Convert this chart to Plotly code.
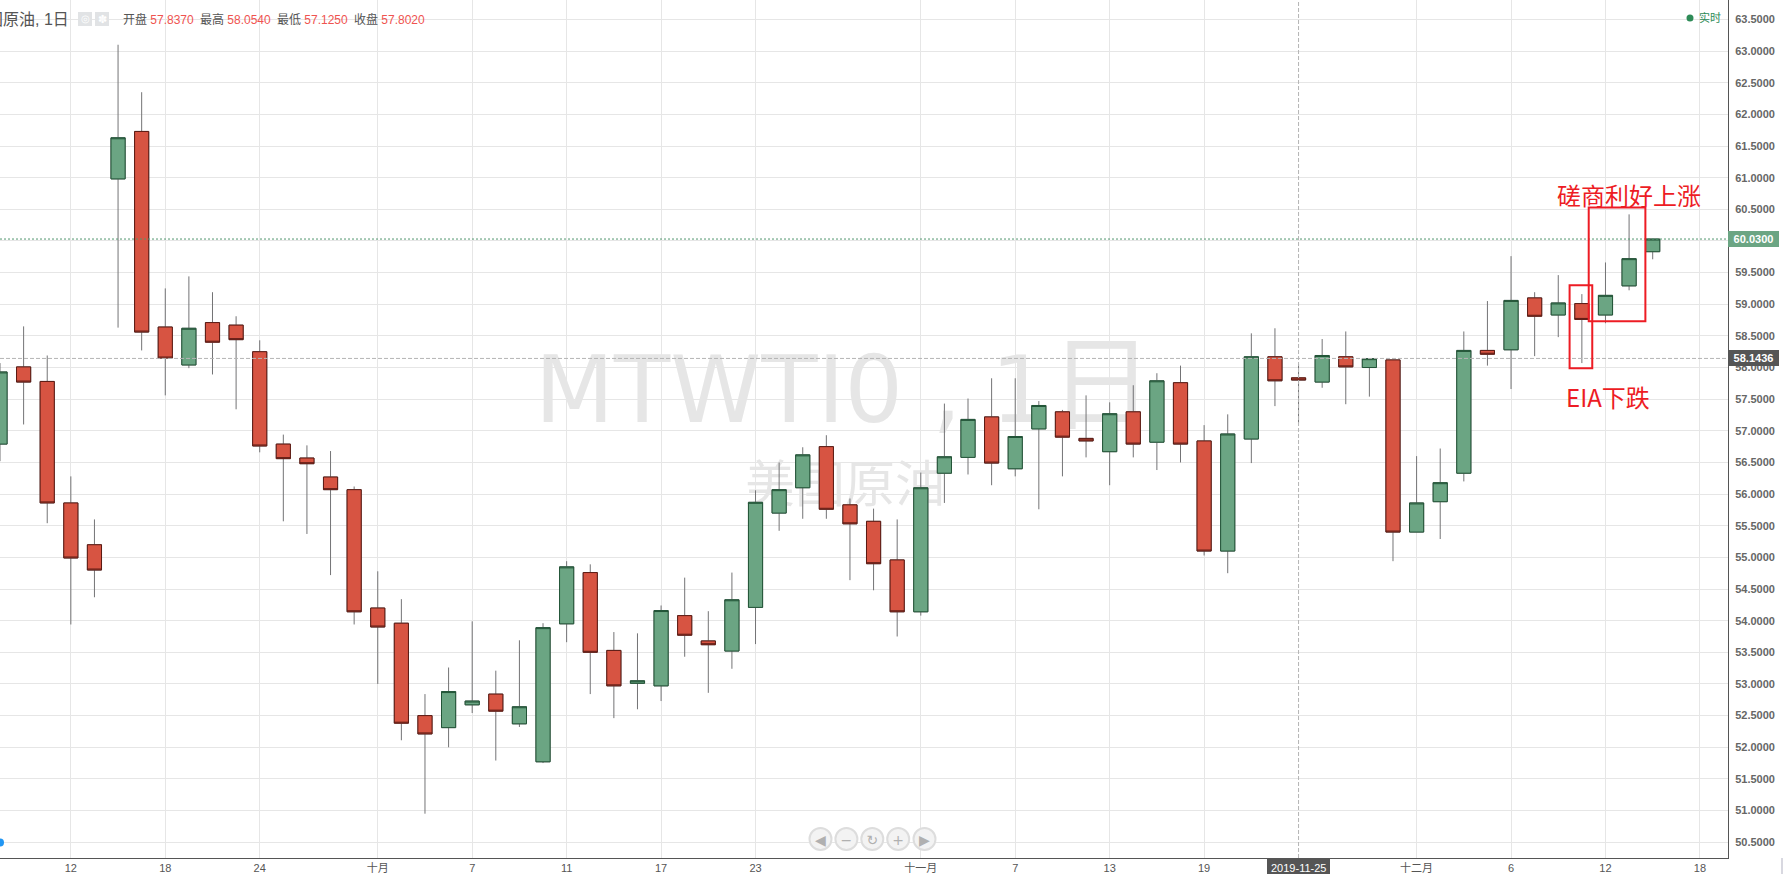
import plotly.graph_objects as go

# daily bars
bar_dates = ["2019-09-09", "2019-09-10", "2019-09-11", "2019-09-12", "2019-09-13",
             "2019-09-16", "2019-09-17", "2019-09-18", "2019-09-19", "2019-09-20",
             "2019-09-23", "2019-09-24", "2019-09-25", "2019-09-26", "2019-09-27",
             "2019-09-30", "2019-10-01", "2019-10-02", "2019-10-03", "2019-10-04",
             "2019-10-07", "2019-10-08", "2019-10-09", "2019-10-10", "2019-10-11",
             "2019-10-14", "2019-10-15", "2019-10-16", "2019-10-17", "2019-10-18",
             "2019-10-21", "2019-10-22", "2019-10-23", "2019-10-24", "2019-10-25",
             "2019-10-28", "2019-10-29", "2019-10-30", "2019-10-31", "2019-11-01",
             "2019-11-04", "2019-11-05", "2019-11-06", "2019-11-07", "2019-11-08",
             "2019-11-11", "2019-11-12", "2019-11-13", "2019-11-14", "2019-11-15",
             "2019-11-18", "2019-11-19", "2019-11-20", "2019-11-21", "2019-11-22",
             "2019-11-25", "2019-11-26", "2019-11-27", "2019-11-28", "2019-11-29",
             "2019-12-02", "2019-12-03", "2019-12-04", "2019-12-05", "2019-12-06",
             "2019-12-09", "2019-12-10", "2019-12-11", "2019-12-12", "2019-12-13",
             "2019-12-16"]
future_dates = ["2019-12-17", "2019-12-18", "2019-12-19", "2019-12-20"]

opens = [56.79, 58.01, 57.78, 55.86, 55.20,
         60.98, 61.73, 58.64, 58.04, 58.71,
         58.67, 58.25, 56.79, 56.57, 56.27,
         56.07, 54.20, 53.96, 52.50, 52.31,
         52.67, 52.84, 52.37, 51.77, 53.95,
         54.76, 53.53, 53.01, 52.97, 54.08,
         53.68, 53.52, 54.21, 55.70, 56.10,
         56.75, 55.83, 55.57, 54.96, 54.14,
         56.33, 56.58, 57.22, 56.40, 57.03,
         57.30, 56.88, 56.67, 57.30, 56.82,
         57.76, 56.84, 55.10, 56.87, 58.17,
         57.837, 57.77, 58.17, 58.00, 58.12,
         55.40, 55.88, 56.33, 58.27, 58.28,
         59.10, 58.83, 59.01, 58.83, 59.29,
         59.83]
highs = [58.07, 58.65, 58.19, 56.28, 55.60,
         63.10, 62.35, 59.25, 59.44, 59.19,
         58.81, 58.43, 56.94, 56.77, 56.68,
         56.12, 54.78, 54.34, 52.84, 53.26,
         53.99, 53.21, 53.69, 53.96, 54.94,
         54.89, 53.82, 53.80, 54.24, 54.68,
         54.15, 54.76, 56.06, 56.50, 56.74,
         56.93, 55.93, 55.77, 55.60, 56.34,
         57.43, 57.51, 57.83, 57.83, 57.47,
         57.33, 57.56, 57.45, 57.72, 57.91,
         58.03, 57.09, 57.26, 58.54, 58.62,
         58.054, 58.45, 58.57, 58.14, 58.12,
         56.60, 56.72, 58.57, 59.05, 59.76,
         59.19, 59.46, 59.16, 59.66, 60.42,
         60.03]
lows = [56.52, 57.10, 55.54, 53.94, 54.37,
        58.63, 58.27, 57.56, 57.99, 57.89,
        57.34, 56.66, 55.57, 55.37, 54.72,
        53.94, 53.00, 52.11, 50.95, 52.00,
        52.54, 51.79, 52.32, 51.75, 53.66,
        52.84, 52.46, 52.60, 52.73, 53.43,
        52.86, 53.24, 53.63, 55.42, 55.61,
        55.61, 54.64, 54.48, 53.75, 54.08,
        55.86, 56.31, 56.14, 56.28, 55.76,
        56.28, 56.58, 56.14, 56.58, 56.38,
        56.50, 55.03, 54.75, 56.49, 57.39,
        57.125, 57.68, 57.42, 57.54, 54.94,
        55.40, 55.29, 56.20, 58.03, 57.66,
        58.18, 58.48, 58.07, 58.70, 59.22,
        59.71]
closes = [57.93, 57.77, 55.86, 54.99, 54.80,
          61.63, 58.56, 58.15, 58.62, 58.40,
          58.44, 56.76, 56.56, 56.48, 56.07,
          54.14, 53.90, 52.38, 52.21, 52.88,
          52.73, 52.57, 52.64, 53.89, 54.85,
          53.50, 52.97, 53.05, 54.16, 53.77,
          53.62, 54.33, 55.87, 56.07, 56.62,
          55.76, 55.53, 54.90, 54.14, 56.10,
          56.59, 57.18, 56.49, 56.91, 57.40,
          56.90, 56.84, 57.27, 56.79, 57.79,
          56.79, 55.10, 56.95, 58.17, 57.79,
          57.802, 58.19, 58.01, 58.14, 55.40,
          55.86, 56.18, 58.27, 58.21, 59.06,
          58.81, 59.02, 58.76, 59.14, 59.72,
          60.03]

tick_dates = ["2019-09-12", "2019-09-18", "2019-09-24", "2019-10-01", "2019-10-07",
              "2019-10-11", "2019-10-17", "2019-10-23", "2019-11-01", "2019-11-07",
              "2019-11-13", "2019-11-19", "2019-12-02", "2019-12-06", "2019-12-12",
              "2019-12-18"]
tick_labels = ["12", "18", "24", "十月", "7", "11", "17", "23", "十一月", "7", "13", "19",
               "十二月", "6", "12", "18"]

ohlc_names = ["开盘", "最高", "最低", "收盘"]
ohlc_values = ["57.8370", "58.0540", "57.1250", "57.8020"]
last_price = 60.03
cursor_price = 58.1436
cursor_date = "2019-11-25"

W, H = 1784, 874
PLOT_W, PLOT_H = 1728, 858
GREEN, RED = "#6ba583", "#d75442"
GREEN_EDGE, RED_EDGE = "#225437", "#5b1a13"
WICK = "#737375"
GRID = "#e6e6e6"
TEXT = "#555555"
MARK = "#ed1c24"
SANS = "Liberation Sans, Noto Sans CJK SC"


def px(x):
    return x / PLOT_W


def py(y):
    return 1 - y / PLOT_H


fig = go.Figure()

# wicks first, then the bodies on top so they keep their own outline colour
fig.add_trace(go.Candlestick(
    x=bar_dates, open=opens, high=highs, low=lows, close=closes,
    whiskerwidth=0,
    increasing=dict(line=dict(color=WICK, width=1), fillcolor=GREEN),
    decreasing=dict(line=dict(color=WICK, width=1), fillcolor=RED),
    hoverinfo="skip",
))
fig.add_trace(go.Candlestick(
    x=bar_dates, open=opens, close=closes,
    high=[max(o, c) for o, c in zip(opens, closes)],
    low=[min(o, c) for o, c in zip(opens, closes)],
    whiskerwidth=0,
    increasing=dict(line=dict(color=GREEN_EDGE, width=1), fillcolor=GREEN),
    decreasing=dict(line=dict(color=RED_EDGE, width=1), fillcolor=RED),
    hoverinfo="skip",
))

shapes = [
    # watermark, behind everything
    dict(type="rect", xref="paper", yref="paper", layer="below", line=dict(width=0),
         x0=px(344), x1=px(1344), y0=py(441), y1=py(341),
         label=dict(text="MTWTI0 , 1<span style='font-size:104px'>日</span>",
                    textposition="middle center",
                    font=dict(family="DejaVu Sans, Noto Sans CJK SC", size=92, color="#e6e6e6"))),
    dict(type="rect", xref="paper", yref="paper", layer="below", line=dict(width=0),
         x0=px(645), x1=px(1045), y0=py(514), y1=py(462),
         label=dict(text="美国原油", textposition="middle center",
                    font=dict(family="Noto Sans CJK SC", size=50, color="#e6e6e6"))),
    # price and cursor lines
    dict(type="line", xref="paper", x0=0, x1=1, y0=last_price, y1=last_price,
         line=dict(color="#53976f", width=1, dash="2px,2px")),
    dict(type="line", xref="paper", x0=0, x1=1, y0=cursor_price, y1=cursor_price,
         line=dict(color="#b4b4b4", width=1, dash="4px,2px")),
    dict(type="line", yref="paper", x0=cursor_date, x1=cursor_date, y0=0, y1=1,
         line=dict(color="#b4b4b4", width=1, dash="4px,2px")),
    # hand drawn red boxes
    dict(type="rect", x0=66.48, x1=67.44, y0=57.99, y1=59.30, line=dict(color=MARK, width=2)),
    dict(type="rect", x0=67.29, x1=69.69, y0=58.73, y1=60.53, line=dict(color=MARK, width=2)),
    # title bar buttons
    dict(type="rect", xref="paper", yref="paper", x0=px(78), x1=px(92), y0=py(26), y1=py(12),
         fillcolor="#e1e3e5", line=dict(width=0),
         label=dict(text="◎", textposition="middle center", font=dict(size=10, color="white"))),
    dict(type="rect", xref="paper", yref="paper", x0=px(95), x1=px(109), y0=py(26), y1=py(12),
         fillcolor="#e1e3e5", line=dict(width=0),
         label=dict(text="✽", textposition="middle center", font=dict(size=11, color="white"))),
    # live dot and the blue dot at the left edge
    dict(type="circle", xref="paper", yref="paper", x0=px(1686.5), x1=px(1693.5), y0=py(21.5), y1=py(14.5),
         fillcolor="#2e8b57", line=dict(width=0)),
    dict(type="circle", xref="paper", yref="paper", x0=px(-3.5), x1=px(4), y0=py(846.5), y1=py(838.5),
         fillcolor="#2196f3", line=dict(width=0)),
    # right edge of the widget
    dict(type="line", xref="paper", yref="paper", x0=px(1782), x1=px(1782), y0=0, y1=py(874),
         line=dict(color="#d8d8e0", width=2)),
]

# zoom / scroll buttons under the chart
for cx, glyph in zip([820.5, 846.4, 872.3, 898.2, 924.5], ["◀", "−", "↻", "+", "▶"]):
    shapes.append(dict(type="circle", xref="paper", yref="paper",
                       x0=px(cx - 11), x1=px(cx + 11), y0=py(850), y1=py(828),
                       fillcolor="#f3f3f3", line=dict(color="#dddddd", width=2),
                       label=dict(text=glyph, textposition="middle center",
                                  font=dict(family="DejaVu Sans", size=14, color="#b0b0b0"))))

annotations = [
    dict(text="美国原油, 1日", xref="paper", yref="paper", x=px(70.5), y=py(20),
         xanchor="right", yanchor="middle", showarrow=False,
         font=dict(family=SANS, size=16, color=TEXT)),
    dict(text="实时", xref="paper", yref="paper", x=px(1697), y=py(18),
         xanchor="left", yanchor="middle", showarrow=False,
         font=dict(family=SANS, size=11, color="#2e8b57")),
    dict(text="磋商利好上涨", xref="paper", yref="paper", x=px(1628.5), y=py(194),
         xanchor="center", yanchor="middle", showarrow=False,
         font=dict(family="Noto Sans CJK SC", size=24, color=MARK)),
    dict(text="EIA下跌", xref="paper", yref="paper", x=px(1608), y=py(397),
         xanchor="center", yanchor="middle", showarrow=False,
         font=dict(family="Noto Sans CJK SC", size=24, color=MARK)),
    dict(text=f"<b>{last_price:.4f}</b>", xref="paper", x=1, y=last_price, xanchor="left", yanchor="middle",
         showarrow=False, bgcolor=GREEN, width=51, height=16, borderpad=0, borderwidth=0,
         font=dict(family=SANS, size=11, color="white")),
    dict(text=f"<b>{cursor_price:.4f}</b>", xref="paper", x=1, y=cursor_price, xanchor="left", yanchor="middle",
         showarrow=False, bgcolor=TEXT, width=51, height=16, borderpad=0, borderwidth=0,
         font=dict(family=SANS, size=11, color="white")),
    dict(text=cursor_date, x=cursor_date, yref="paper", y=0, xanchor="center", yanchor="top",
         showarrow=False, bgcolor=TEXT, borderpad=4, borderwidth=0,
         font=dict(family=SANS, size=11, color="white")),
]
for i, (name, value) in enumerate(zip(ohlc_names, ohlc_values)):
    annotations.append(dict(
        text=f'{name} <span style="color:#ef5350">{value}</span>',
        xref="paper", yref="paper", x=px(120.5 + i * 77.1), y=py(20),
        xanchor="left", yanchor="middle", showarrow=False,
        font=dict(family=SANS, size=12, color=TEXT)))

fig.update_layout(
    width=W, height=H,
    margin=dict(l=0, r=W - PLOT_W, t=0, b=H - PLOT_H, autoexpand=False),
    plot_bgcolor="white", paper_bgcolor="white",
    showlegend=False,
    boxgap=0.4, boxgroupgap=0,
    shapes=shapes,
    annotations=annotations,
    xaxis=dict(
        type="category",
        categoryorder="array", categoryarray=bar_dates + future_dates,
        range=[0, PLOT_W / 23.61],
        tickmode="array", tickvals=tick_dates, ticktext=tick_labels,
        tickangle=0, ticks="", showgrid=True, gridcolor=GRID, gridwidth=1,
        showline=True, linecolor=TEXT, linewidth=1,
        rangeslider=dict(visible=False),
        tickfont=dict(family=SANS, size=11, color=TEXT),
    ),
    yaxis=dict(
        side="right", range=[50.25, 63.807],
        tick0=50.5, dtick=0.5, tickformat=".4f",
        ticks="", ticklabelstandoff=4,
        showgrid=True, gridcolor=GRID, gridwidth=1, zeroline=False,
        showline=True, linecolor=TEXT, linewidth=1,
        tickfont=dict(family=SANS, size=11, color="#666666", weight="bold"),
    ),
)

fig.write_html("out.html", config=dict(displayModeBar=False),
               post_script="document.body.style.margin='0';")
